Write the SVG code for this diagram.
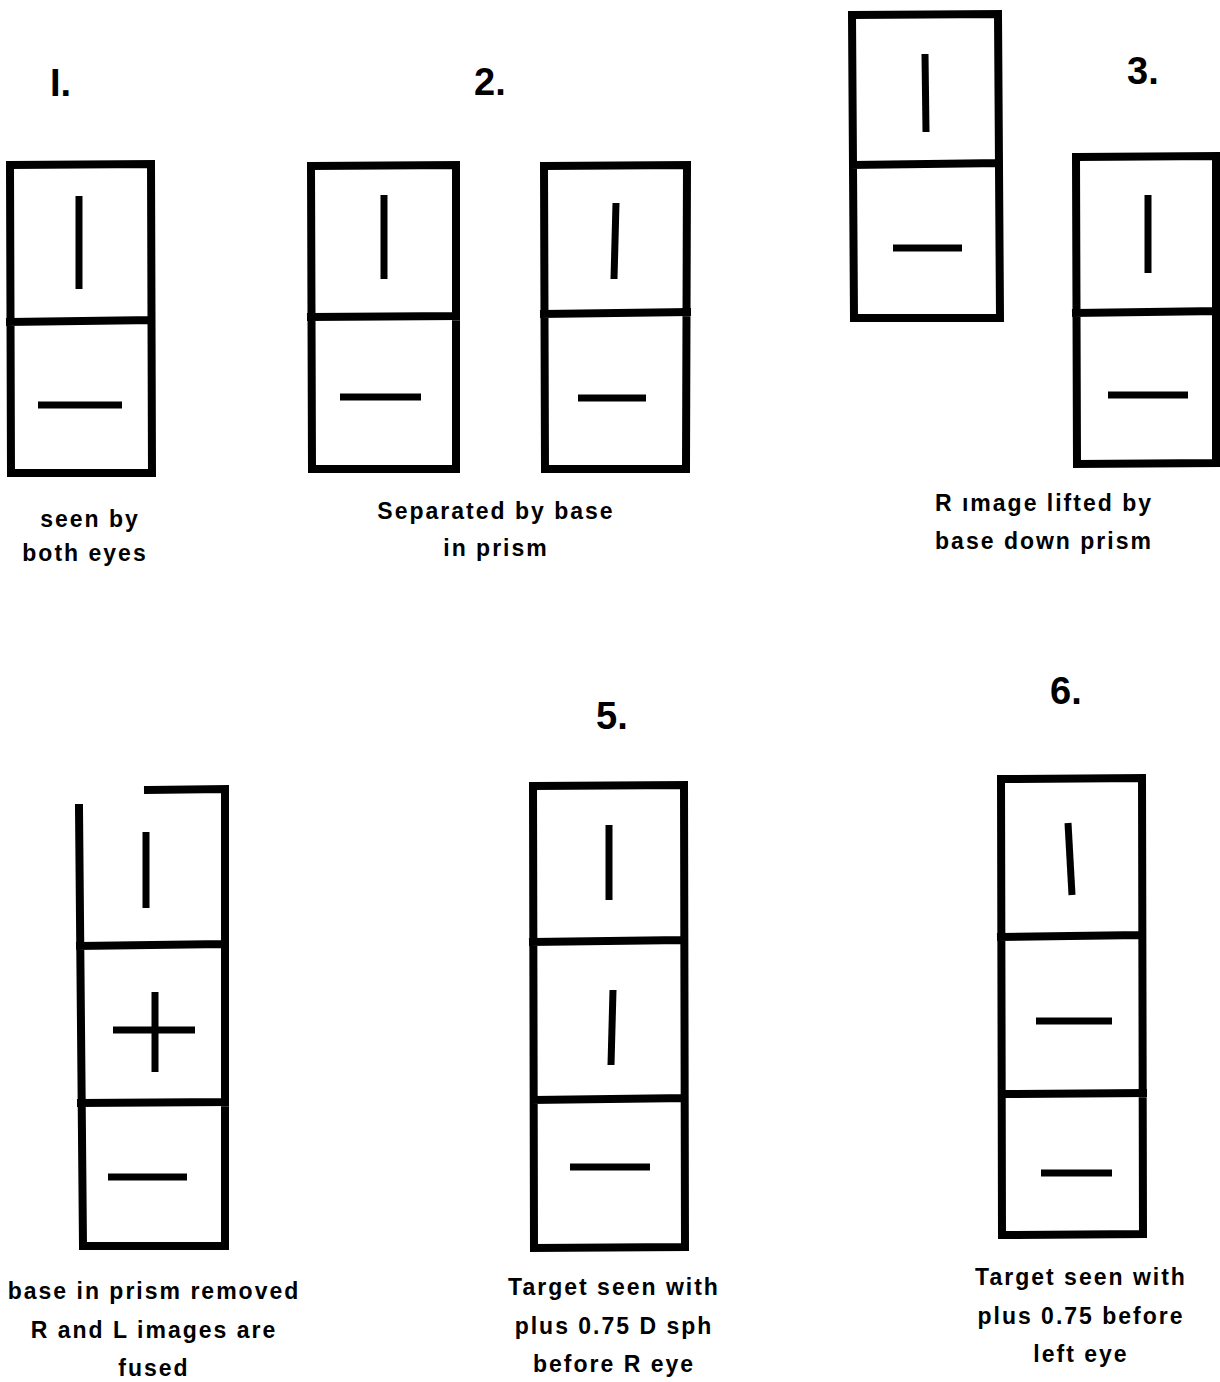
<svg xmlns="http://www.w3.org/2000/svg" width="1220" height="1382" viewBox="0 0 1220 1382">
<style>
.box{fill:none;stroke:#000;stroke-width:8;stroke-linejoin:miter;stroke-linecap:square}
.mk{stroke:#000;stroke-width:7;stroke-linecap:butt}
.num{font-family:"Liberation Sans",Arial,sans-serif;font-weight:bold;font-size:38px;fill:#000}
.cap{font-family:"Liberation Sans",Arial,sans-serif;font-weight:bold;font-size:23px;letter-spacing:2px;fill:#000;text-anchor:middle}
</style>
<rect width="1220" height="1382" fill="#fff"/>

<g id="panel1">
<text class="num" x="50" y="96">I.</text>
<path class="box" d="M10,165 L151,164 L152,473 L11,473 Z M10,322 L151,320"/>
<line class="mk" x1="79" y1="196" x2="79" y2="289"/>
<line class="mk" x1="38" y1="405" x2="122" y2="405"/>
<text class="cap" x="90" y="527">seen by</text>
<text class="cap" x="85" y="561">both eyes</text>
</g>

<g id="panel2">
<text class="num" x="474" y="95">2.</text>
<g id="panel2-left">
<path class="box" d="M311,166 L456,165 L456,469 L312,469 Z M311,317 L456,316"/>
<line class="mk" x1="384" y1="195" x2="384" y2="279"/>
<line class="mk" x1="340" y1="397" x2="421" y2="397"/>
</g>
<g id="panel2-right">
<path class="box" d="M544,166 L687,165 L686,469 L545,469 Z M544,314 L687,312"/>
<line class="mk" x1="616" y1="203" x2="614" y2="279"/>
<line class="mk" x1="578" y1="398" x2="646" y2="398"/>
</g>
<text class="cap" x="496" y="519">Separated by base</text>
<text class="cap" x="496" y="556">in prism</text>
</g>

<g id="panel3">
<text class="num" x="1127" y="84">3.</text>
<g id="panel3-left">
<path class="box" d="M852,15 L998,14 L1000,318 L854,318 Z M853,165 L998,163"/>
<line class="mk" x1="925" y1="54" x2="926" y2="132"/>
<line class="mk" x1="893" y1="248" x2="962" y2="248"/>
</g>
<g id="panel3-right">
<path class="box" d="M1076,157 L1216,156 L1216,463 L1077,464 Z M1076,313 L1216,311"/>
<line class="mk" x1="1148" y1="195" x2="1148" y2="273"/>
<line class="mk" x1="1108" y1="395" x2="1188" y2="395"/>
</g>
<text class="cap" x="1044" y="511">R ımage lifted by</text>
<text class="cap" x="1044" y="549">base down prism</text>
</g>

<g id="panel4">
<path class="box" d="M148,790 L225,789 L225,1246 L83,1246 L79,808 M80,946 L225,944 M81,1103 L225,1102"/>
<line class="mk" x1="146" y1="832" x2="146" y2="908"/>
<line class="mk" x1="113" y1="1030" x2="195" y2="1030"/>
<line class="mk" x1="155" y1="992" x2="155" y2="1072"/>
<line class="mk" x1="108" y1="1177" x2="187" y2="1177"/>
<text class="cap" x="154" y="1299">base in prism removed</text>
<text class="cap" x="154" y="1338">R and L images are</text>
<text class="cap" x="154" y="1376">fused</text>
</g>

<g id="panel5">
<text class="num" x="596" y="729">5.</text>
<path class="box" d="M533,786 L684,785 L685,1247 L534,1248 Z M533,942 L684,940 M534,1100 L684,1098"/>
<line class="mk" x1="609" y1="825" x2="609" y2="900"/>
<line class="mk" x1="613" y1="990" x2="611" y2="1065"/>
<line class="mk" x1="570" y1="1167" x2="650" y2="1167"/>
<text class="cap" x="614" y="1295">Target seen with</text>
<text class="cap" x="614" y="1334">plus 0.75 D sph</text>
<text class="cap" x="614" y="1372">before R eye</text>
</g>

<g id="panel6">
<text class="num" x="1050" y="704">6.</text>
<path class="box" d="M1001,779 L1142,778 L1143,1234 L1002,1235 Z M1001,937 L1142,935 M1002,1094 L1143,1093"/>
<line class="mk" x1="1068" y1="823" x2="1072" y2="895"/>
<line class="mk" x1="1036" y1="1021" x2="1112" y2="1021"/>
<line class="mk" x1="1041" y1="1173" x2="1112" y2="1173"/>
<text class="cap" x="1081" y="1285">Target seen with</text>
<text class="cap" x="1081" y="1324">plus 0.75 before</text>
<text class="cap" x="1081" y="1362">left eye</text>
</g>

<g id="connectors"/>
</svg>
